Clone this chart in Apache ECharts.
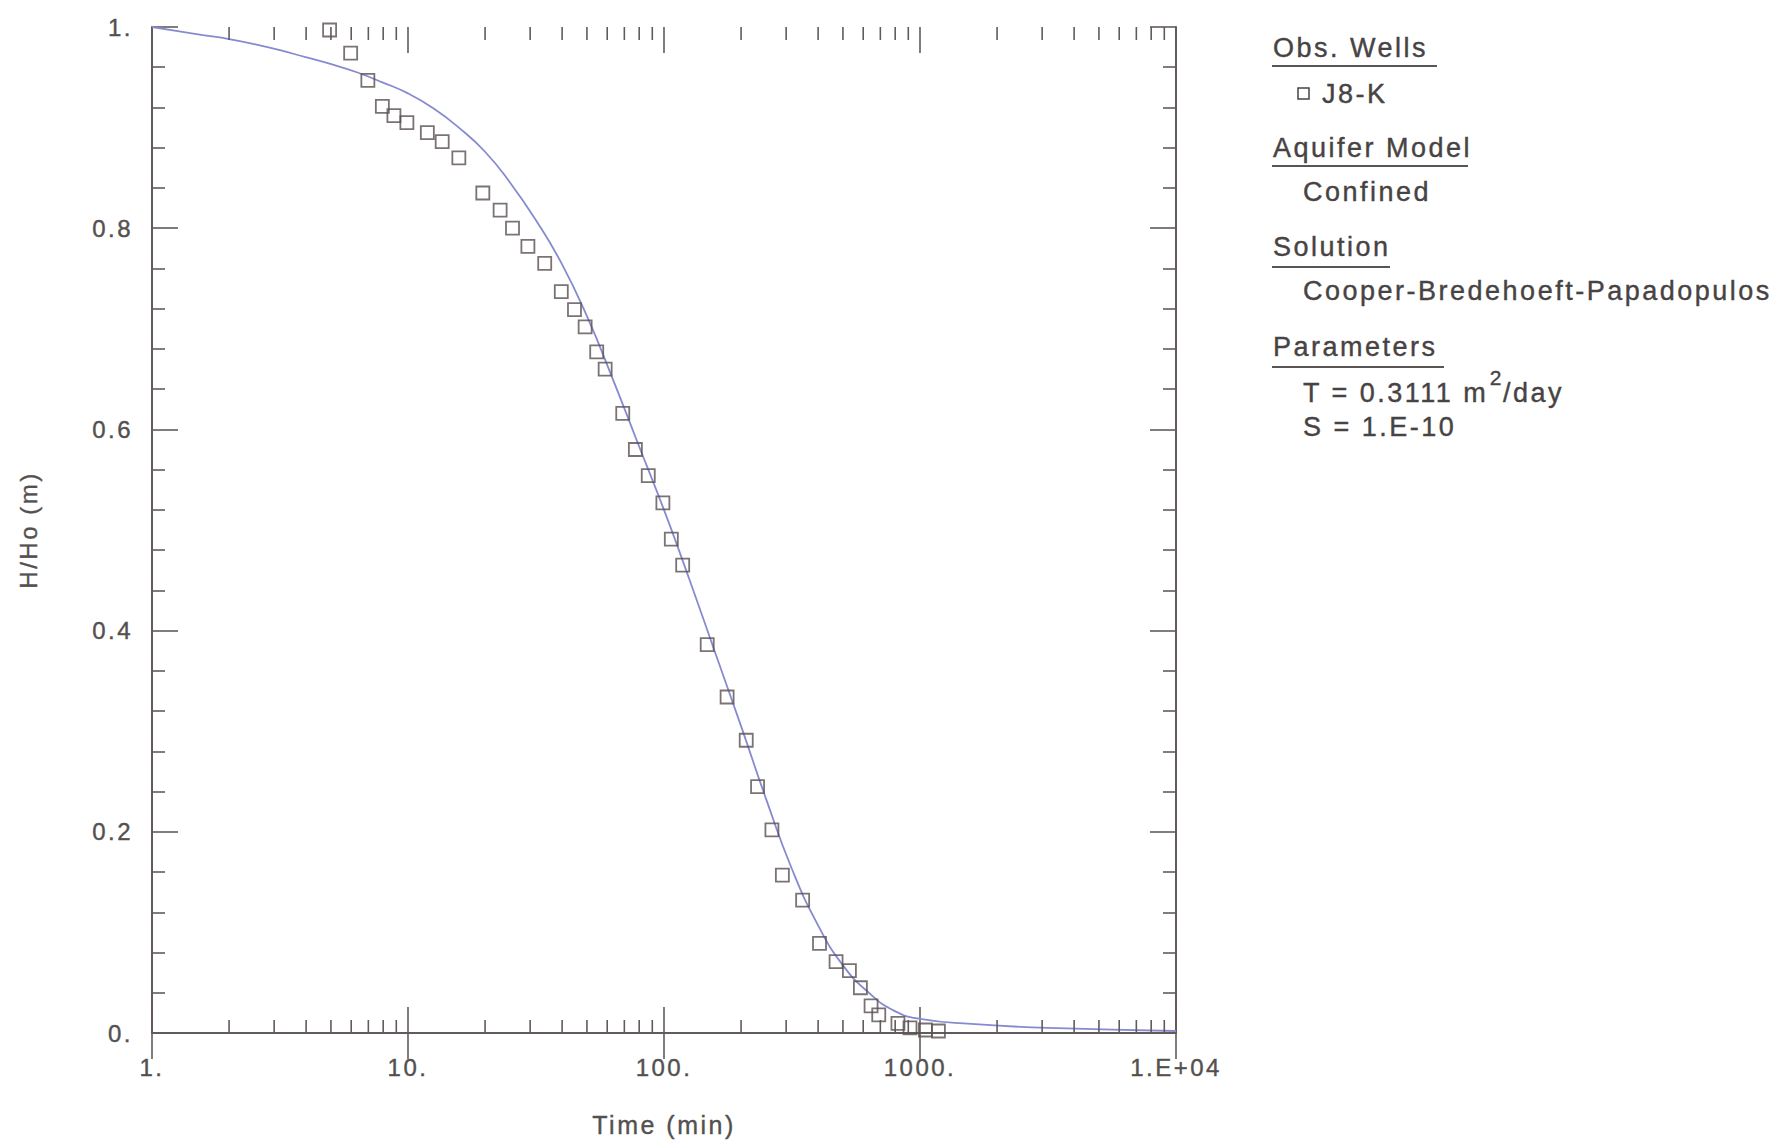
<!DOCTYPE html>
<html>
<head>
<meta charset="utf-8">
<script src="https://cdn.jsdelivr.net/npm/echarts@6/dist/echarts.min.js"></script>
<style>
html,body{margin:0;padding:0;background:#ffffff;}
#chart{width:1790px;height:1148px;}
#chart text{letter-spacing:2.5px;}
</style>
</head>
<body>
<div id="chart"></div>
<script>
// ---------- data ----------
const xTickValues = [1, 10, 100, 1000, 10000];
const xTickLabels = ['1.', '10.', '100.', '1000.', '1.E+04'];
const xMinorTicks = [2,3,4,5,6,7,8,9, 20,30,40,50,60,70,80,90, 200,300,400,500,600,700,800,900, 2000,3000,4000,5000,6000,7000,8000,9000];
const xInnerMajorTicks = [10, 100, 1000];
const yTickValues = [0, 0.2, 0.4, 0.6, 0.8, 1];
const yTickLabels = ['0.', '0.2', '0.4', '0.6', '0.8', '1.'];

const wellName = 'J8-K';
const obsTime = [4.94, 5.97, 6.97, 7.94, 8.81, 9.9, 11.9, 13.6, 15.8, 19.6, 22.9, 25.6, 29.4, 34.2, 39.7, 44.7, 49.2, 54.6, 58.9, 69, 77.3, 86.8, 99, 106.8, 118.3, 147.5, 176.4, 209.5, 232, 264, 290, 348, 405, 470, 530, 585, 644, 690, 820, 914, 1050, 1180];
const obsHead = [0.997, 0.974, 0.947, 0.921, 0.912, 0.905, 0.895, 0.886, 0.870, 0.835, 0.818, 0.800, 0.782, 0.765, 0.737, 0.719, 0.702, 0.677, 0.660, 0.616, 0.580, 0.554, 0.527, 0.491, 0.465, 0.386, 0.334, 0.291, 0.245, 0.202, 0.157, 0.132, 0.089, 0.071, 0.062, 0.045, 0.027, 0.018, 0.0095, 0.005, 0.003, 0.002];

const fitTime = [1, 1.26, 1.58, 2.0, 2.51, 3.16, 3.98, 5.01, 6.31, 7.94, 10, 12.6, 15.8, 20, 25.1, 31.6, 39.8, 50.1, 63.1, 79.4, 100, 126, 158, 200, 251, 316, 398, 501, 631, 794, 1000, 1585, 3162, 10000];
const fitHead = [1.0, 0.996, 0.992, 0.988, 0.983, 0.977, 0.970, 0.963, 0.955, 0.945, 0.934, 0.919, 0.900, 0.876, 0.845, 0.808, 0.765, 0.712, 0.650, 0.585, 0.520, 0.450, 0.379, 0.305, 0.232, 0.163, 0.108, 0.067, 0.040, 0.022, 0.014, 0.009, 0.005, 0.002];

const legendHeaders = ['Obs. Wells', 'Aquifer Model', 'Solution', 'Parameters'];
const aquiferModel = 'Confined';
const solutionName = 'Cooper-Bredehoeft-Papadopulos';
const paramT = ['T = 0.3111 m', '2', '/day'];
const paramS = 'S = 1.E-10';

// ---------- styles ----------
const FONT = 'Liberation Sans, Arial, sans-serif';
const AX = '#625b5b';
const LBL = '#545050';
const TXT = '#484343';
const LS = 2.5;
const LEG = 27;

function textW(str, size) {
  const c = document.createElement('canvas').getContext('2d');
  c.font = size + 'px Liberation Sans';
  try { c.letterSpacing = LS + 'px'; } catch (e) {}
  return c.measureText(str).width;
}

const chart = echarts.init(document.getElementById('chart'), null, {renderer: 'svg'});

const axisCommon = {
  axisLine: {show: true, lineStyle: {color: AX, width: 2}},
  splitLine: {show: false},
  minorSplitLine: {show: false}
};

function xLabel(v) {
  for (let i = 0; i < xTickValues.length; i++) {
    if (Math.abs(Math.log10(v) - Math.log10(xTickValues[i])) < 1e-6) return xTickLabels[i];
  }
  return '';
}
function yLabel(v) {
  for (let i = 0; i < yTickValues.length; i++) {
    if (Math.abs(v - yTickValues[i]) < 1e-6) return yTickLabels[i];
  }
  return '';
}

// legend panel layout
const LX = 1273, IX = 1303;
const g = [];
function addText(str, x, y, size) {
  g.push({
    type: 'text', x: x, y: y, silent: true,
    style: {text: str, fontSize: size, fontFamily: FONT, fill: TXT, align: 'left', verticalAlign: 'middle',
            stroke: TXT, lineWidth: 0.4}
  });
}
function addUnderline(x1, x2, y) {
  g.push({type: 'line', silent: true, shape: {x1: x1, y1: y, x2: x2, y2: y}, style: {stroke: '#5a5454', lineWidth: 2}});
}
addText(legendHeaders[0], LX, 48, LEG);
addUnderline(1272, 1437, 66);
g.push({type: 'rect', silent: true, shape: {x: 1298, y: 88, width: 11, height: 11}, style: {fill: 'none', stroke: TXT, lineWidth: 1.5}});
addText(wellName, 1322, 94, LEG);
addText(legendHeaders[1], LX, 148, LEG);
addUnderline(1272, 1468, 166);
addText(aquiferModel, IX, 192, LEG);
addText(legendHeaders[2], LX, 247, LEG);
addUnderline(1272, 1390, 267);
addText(solutionName, IX, 291, LEG);
addText(legendHeaders[3], LX, 347, LEG);
addUnderline(1272, 1444, 367);
const w1 = textW(paramT[0], LEG);
addText(paramT[0], IX, 393, LEG);
addText(paramT[1], IX + w1 + 1, 377, 21);
const w2 = textW(paramT[1], 21);
addText(paramT[2], IX + w1 + 1 + w2 - 1, 393, LEG);
addText(paramS, IX, 427, LEG);

const labelStyle = {fontSize: 24, color: LBL, fontFamily: FONT, textBorderColor: LBL, textBorderWidth: 0.4};

function tickSeries(values, len, bottom, top) {
  return {
    type: 'custom', xAxisIndex: 0, yAxisIndex: 0, silent: true, z: 3, clip: false,
    data: values.map(v => [v, 0]),
    renderItem: function (params, api) {
      const v = api.value(0);
      const pb = api.coord([v, 0]);
      const pt = api.coord([v, 1]);
      const st = {stroke: AX, lineWidth: 1.6};
      const ch = [];
      if (bottom) ch.push({type: 'line', shape: {x1: pb[0], y1: pb[1], x2: pb[0], y2: pb[1] - len}, style: st});
      if (top) ch.push({type: 'line', shape: {x1: pt[0], y1: pt[1], x2: pt[0], y2: pt[1] + len}, style: st});
      return {type: 'group', children: ch};
    }
  };
}

const option = {
  animation: false,
  backgroundColor: '#ffffff',
  textStyle: {fontFamily: FONT},
  grid: {left: 152, top: 27, width: 1024, height: 1006, outerBoundsMode: 'none', containLabel: false},
  xAxis: [
    Object.assign({}, axisCommon, {
      type: 'log', logBase: 10, min: 1, max: 10000, position: 'bottom',
      axisTick: {show: true, inside: true, length: 26, lineStyle: {color: AX, width: 1.6}},
      minorTick: {show: false},
      axisLabel: Object.assign({show: true, formatter: xLabel, margin: 22, hideOverlap: false}, labelStyle),
      name: 'Time (min)', nameLocation: 'middle', nameGap: 79,
      nameTextStyle: Object.assign({}, labelStyle, {fontSize: 25})
    }),
    Object.assign({}, axisCommon, {
      type: 'log', logBase: 10, min: 1, max: 10000, position: 'top',
      axisTick: {show: true, inside: true, length: 26, lineStyle: {color: AX, width: 1.6}},
      minorTick: {show: false},
      axisLabel: {show: false}
    })
  ],
  yAxis: [
    Object.assign({}, axisCommon, {
      type: 'value', min: 0, max: 1, interval: 0.2, position: 'left',
      axisTick: {show: true, inside: true, length: 26, lineStyle: {color: AX, width: 1.6}},
      minorTick: {show: true, splitNumber: 5, length: 13, lineStyle: {color: AX, width: 1.6}},
      axisLabel: Object.assign({show: true, formatter: yLabel, margin: 19}, labelStyle),
      name: 'H/Ho (m)', nameLocation: 'middle', nameGap: 112, nameRotate: 90,
      nameTextStyle: Object.assign({}, labelStyle, {fontSize: 24})
    }),
    Object.assign({}, axisCommon, {
      type: 'value', min: 0, max: 1, interval: 0.2, position: 'right',
      axisTick: {show: true, inside: true, length: 26, lineStyle: {color: AX, width: 1.6}},
      minorTick: {show: true, splitNumber: 5, length: 13, lineStyle: {color: AX, width: 1.6}},
      axisLabel: {show: false}
    })
  ],
  series: [
    tickSeries(xMinorTicks, 13, true, true),
    tickSeries(xInnerMajorTicks, 26, false, true),
    {
      type: 'line', name: 'fit', xAxisIndex: 0, yAxisIndex: 0, z: 2,
      data: fitTime.map((t, i) => [t, fitHead[i]]),
      smooth: 0.5, showSymbol: false, symbol: 'none',
      lineStyle: {color: '#868bcf', width: 1.8}
    },
    {
      type: 'scatter', name: wellName, xAxisIndex: 0, yAxisIndex: 0, z: 4,
      data: obsTime.map((t, i) => [t, obsHead[i]]),
      symbol: 'rect', symbolSize: 13,
      itemStyle: {color: 'rgba(255,255,255,0)', borderColor: '#5a5050', borderWidth: 1.8}
    }
  ],
  graphic: {elements: g}
};
chart.setOption(option);
</script>
</body>
</html>
